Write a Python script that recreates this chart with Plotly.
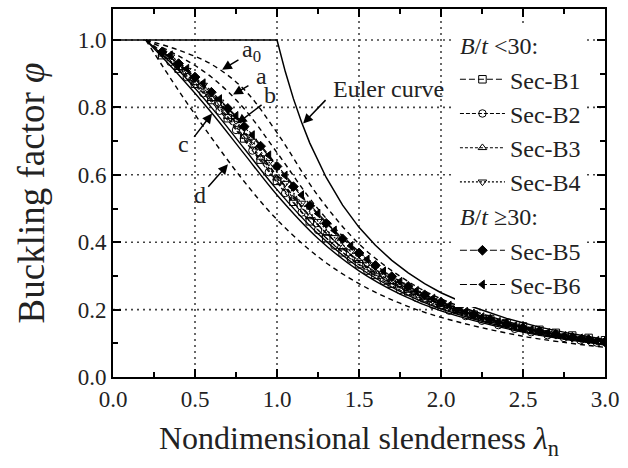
import plotly.graph_objects as go

# ---- design curves (buckling curves a0, a, b, c, d) ----
lam_curve = [0.2, 0.4, 0.6, 0.8, 1.0, 1.25, 1.5, 1.75, 2.0, 2.5, 3.0]
phi_a0 = [1.0, 0.970, 0.928, 0.853, 0.725, 0.538, 0.395, 0.299, 0.232, 0.152, 0.106]
phi_a = [1.0, 0.953, 0.890, 0.796, 0.666, 0.499, 0.372, 0.284, 0.223, 0.147, 0.104]
phi_b = [1.0, 0.926, 0.837, 0.725, 0.597, 0.452, 0.342, 0.265, 0.210, 0.140, 0.099]
phi_c = [1.0, 0.897, 0.785, 0.662, 0.540, 0.411, 0.315, 0.246, 0.196, 0.133, 0.095]
phi_c2 = [1.0, 0.910, 0.800, 0.678, 0.556, 0.425, 0.325, 0.254, 0.202, 0.136, 0.097]
phi_d = [1.0, 0.850, 0.710, 0.580, 0.467, 0.357, 0.277, 0.219, 0.177, 0.121, 0.088]

# ---- Euler curve ----
lam_euler = [0.0, 1.0, 1.05, 1.1, 1.15, 1.2, 1.3, 1.4, 1.5, 1.6, 1.7, 1.8, 1.9,
             2.0, 2.2, 2.4, 2.6, 2.8, 3.0]
phi_euler = [1.0, 1.0, 0.907, 0.826, 0.756, 0.694, 0.592, 0.510, 0.444, 0.391,
             0.346, 0.309, 0.277, 0.250, 0.207, 0.174, 0.148, 0.128, 0.111]

# ---- section results ----
lam_tenths = [0.3, 0.4, 0.5, 0.6, 0.7, 0.8, 0.9, 1.0, 1.1, 1.2, 1.3, 1.4, 1.5, 1.6,
              1.7, 1.8, 1.9, 2.0, 2.1, 2.2, 2.3, 2.4, 2.5, 2.6, 2.7, 2.8, 2.9, 3.0]
lam_halves = [0.35, 0.45, 0.55, 0.65, 0.75, 0.85, 0.95, 1.05, 1.15, 1.25, 1.35,
              1.45, 1.55, 1.65, 1.75, 1.85, 1.95, 2.05, 2.15, 2.25, 2.35, 2.45,
              2.55, 2.65, 2.75, 2.85, 2.95]

phi_B1 = [0.955, 0.915, 0.870, 0.822, 0.768, 0.708, 0.645, 0.582, 0.520, 0.462,
          0.412, 0.370, 0.335, 0.303, 0.277, 0.254, 0.234, 0.215, 0.199, 0.185,
          0.172, 0.160, 0.150, 0.140, 0.131, 0.123, 0.116, 0.109]
phi_B2 = [0.935, 0.890, 0.842, 0.790, 0.733, 0.672, 0.608, 0.546, 0.488, 0.436,
          0.390, 0.350, 0.315, 0.285, 0.258, 0.235, 0.214, 0.197, 0.181, 0.167,
          0.154, 0.143, 0.133, 0.124, 0.116, 0.109, 0.102]
phi_B3 = [0.958, 0.918, 0.874, 0.826, 0.773, 0.714, 0.652, 0.590, 0.530, 0.475,
          0.426, 0.383, 0.345, 0.312, 0.283, 0.257, 0.235, 0.215, 0.197, 0.181,
          0.167, 0.155, 0.144, 0.134, 0.125, 0.117, 0.110, 0.103]
phi_B4 = [0.950, 0.910, 0.866, 0.816, 0.761, 0.700, 0.637, 0.575, 0.516, 0.462,
          0.414, 0.372, 0.335, 0.302, 0.274, 0.249, 0.227, 0.208, 0.191, 0.176,
          0.163, 0.151, 0.140, 0.130, 0.122, 0.114, 0.107]
phi_B5 = [0.965, 0.930, 0.890, 0.845, 0.797, 0.743, 0.685, 0.625, 0.565, 0.508,
          0.456, 0.410, 0.368, 0.331, 0.298, 0.269, 0.244, 0.222, 0.203, 0.186,
          0.171, 0.158, 0.146, 0.136, 0.127, 0.118, 0.111, 0.104]
phi_B6 = [0.955, 0.915, 0.872, 0.825, 0.775, 0.718, 0.658, 0.598, 0.540, 0.485,
          0.435, 0.389, 0.349, 0.314, 0.283, 0.256, 0.233, 0.212, 0.194, 0.178,
          0.164, 0.152, 0.141, 0.131, 0.122, 0.115, 0.108]

# grid positions
grid_x = [0.5, 1.0, 1.5, 2.0, 2.5]
grid_y = [0.2, 0.4, 0.6, 0.8, 1.0]

FONT = "Liberation Serif"
BLACK = "black"
TEXT = "#222"

fig = go.Figure()

# dotted grid
for gx in grid_x:
    fig.add_shape(type="line", xref="x", yref="paper", x0=gx, x1=gx, y0=0, y1=1,
                  line=dict(color="#444", width=1.6, dash="2px,4px"), layer="below")
for gy in grid_y:
    fig.add_shape(type="line", xref="paper", yref="y", x0=0, x1=1, y0=gy, y1=gy,
                  line=dict(color="#444", width=1.6, dash="2px,4px"), layer="below")

# design curves
curve_styles = [
    (phi_a0, "dash"), (phi_a, "dash"), (phi_b, "dash"),
    (phi_c, "solid"), (phi_c2, "solid"), (phi_d, "dash"),
]
for phi, dash in curve_styles:
    fig.add_trace(go.Scatter(
        x=lam_curve, y=phi, mode="lines", showlegend=False,
        line=dict(color=BLACK, width=1.4, dash="5px,4px" if dash == "dash" else "solid",
                  shape="spline", smoothing=1.0),
        hoverinfo="skip"))

fig.add_trace(go.Scatter(
    x=lam_euler, y=phi_euler, mode="lines", showlegend=False,
    line=dict(color=BLACK, width=1.5), hoverinfo="skip"))

# section series
series = [
    ("Sec-B1", lam_tenths, phi_B1, "square-open", "6px,3px", "lt30"),
    ("Sec-B2", lam_halves, phi_B2, "circle-open", "4px,2px", "lt30"),
    ("Sec-B3", lam_tenths, phi_B3, "triangle-up-open", "3px,2px", "lt30"),
    ("Sec-B4", lam_halves, phi_B4, "triangle-down-open", "2px,2px", "lt30"),
    ("Sec-B5", lam_tenths, phi_B5, "diamond", "7px,3px", "ge30"),
    ("Sec-B6", lam_halves, phi_B6, "triangle-left", "7px,3px", "ge30"),
]
group_titles = {
    "lt30": "<i>B</i>/<i>t</i> &lt;30:",
    "ge30": "<i>B</i>/<i>t</i> ≥30:",
}
for name, lam, phi, sym, dash, grp in series:
    fig.add_trace(go.Scatter(
        x=lam, y=phi, mode="lines+markers", name=name,
        legendgroup=grp,
        legendgrouptitle=dict(text=group_titles[grp], font=dict(family=FONT, size=24, color=TEXT)),
        line=dict(color=BLACK, width=1.1, dash=dash),
        marker=dict(symbol=sym, size=7.5, color=BLACK, line=dict(color=BLACK, width=1)),
    ))

# curve labels with arrows: (tip_x, tip_y, tail_x, tail_y)
arrows = [
    (0.665, 0.912, 0.774, 0.944),
    (0.732, 0.838, 0.835, 0.867),
    (0.756, 0.752, 0.915, 0.811),
    (1.159, 0.752, 1.305, 0.826),
    (0.604, 0.782, 0.488, 0.708),
    (0.701, 0.631, 0.573, 0.560),
]
for tx, ty, sx, sy in arrows:
    fig.add_annotation(x=tx, y=ty, ax=sx, ay=sy, axref="x", ayref="y",
                       xref="x", yref="y", text="", showarrow=True,
                       arrowhead=2, arrowsize=1.3, arrowwidth=1.5, arrowcolor=BLACK)

labels = [
    ("a<sub>0</sub>", 0.845, 0.968),
    ("a", 0.905, 0.892),
    ("b", 0.955, 0.836),
    ("Euler curve", 1.68, 0.855),
    ("c", 0.43, 0.692),
    ("d", 0.53, 0.540),
]
for txt, x, y in labels:
    fig.add_annotation(x=x, y=y, xref="x", yref="y", text=txt, showarrow=False,
                       borderpad=0,
                       font=dict(family=FONT, size=24, color=TEXT))

axis_common = dict(
    showline=True, linewidth=2, linecolor=BLACK, mirror="ticks",
    ticks="inside", ticklen=8, tickwidth=2, tickcolor=BLACK,
    showgrid=False, zeroline=False,
    tickfont=dict(family=FONT, size=23, color=TEXT),
)

fig.update_xaxes(
    range=[0, 3.0], dtick=0.5, tick0=0, tickformat=".1f",
    minor=dict(dtick=0.25, ticks="inside", ticklen=5, tickwidth=1.5, tickcolor=BLACK, showgrid=False),
    title=dict(text="Nondimensional slenderness <i>λ</i><sub>n</sub>",
               font=dict(family=FONT, size=32, color=TEXT), standoff=16),
    **axis_common)
fig.update_yaxes(
    range=[0, 1.092], dtick=0.2, tick0=0, tickformat=".1f",
    minor=dict(dtick=0.1, ticks="inside", ticklen=5, tickwidth=1.5, tickcolor=BLACK, showgrid=False),
    title=dict(text="Buckling factor <i>φ</i>",
               font=dict(family=FONT, size=37, color=TEXT), standoff=22),
    **axis_common)

fig.update_layout(
    width=628, height=468,
    margin=dict(l=113, r=23, t=7, b=91),
    plot_bgcolor="white", paper_bgcolor="white",
    font=dict(family=FONT, color=BLACK),
    legend=dict(x=0.695, y=0.962, xanchor="left", yanchor="top",
                bgcolor="white", borderwidth=0, traceorder="grouped",
                tracegroupgap=0, itemwidth=45,
                font=dict(family=FONT, size=24, color=TEXT)),
)

fig.write_html("out.html")
